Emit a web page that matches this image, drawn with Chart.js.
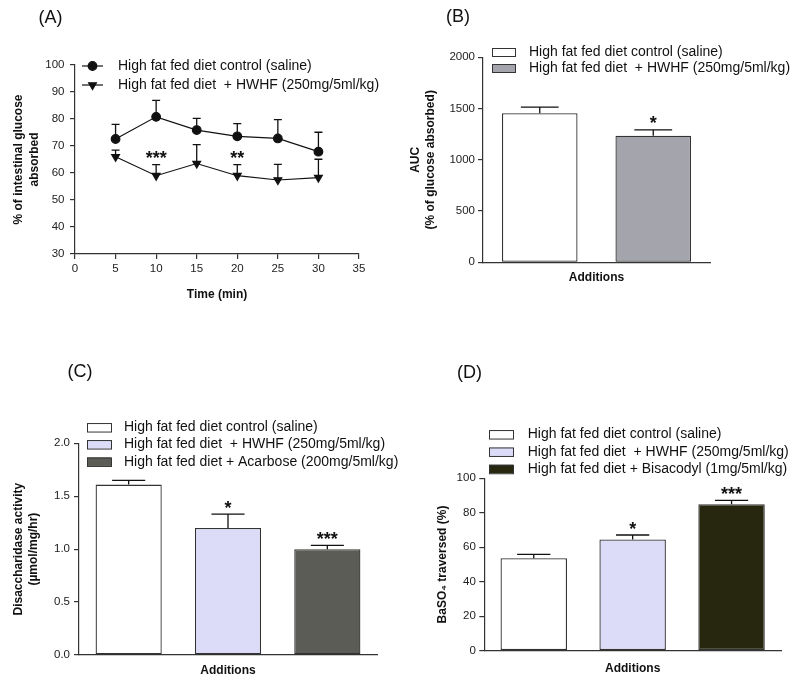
<!DOCTYPE html>
<html>
<head>
<meta charset="utf-8">
<script src="https://cdn.jsdelivr.net/npm/chart.js@4.4.1/dist/chart.umd.min.js"></script>
<style>
  html, body { margin: 0; padding: 0; background: #fff; }
  #wrap { position: relative; width: 798px; height: 682px; overflow: hidden; background: #fff; }
  canvas { position: absolute; }
</style>
</head>
<body>
<div id="wrap">
  <canvas id="chartA" width="399" height="318" style="left:0;top:0"></canvas>
  <canvas id="chartB" width="399" height="318" style="left:399px;top:0"></canvas>
  <canvas id="chartC" width="399" height="364" style="left:0;top:318px"></canvas>
  <canvas id="chartD" width="399" height="364" style="left:399px;top:318px"></canvas>
</div>
<script>
// ===== DATA =====
const controlName = "High fat fed diet control (saline)";
const hwhfName = "High fat fed diet  + HWHF (250mg/5ml/kg)";
const acarboseName = "High fat fed diet + Acarbose (200mg/5ml/kg)";
const bisacodylName = "High fat fed diet + Bisacodyl (1mg/5ml/kg)";

// (A) glucose absorption over time
const timePoints = [5, 10, 15, 20, 25, 30];
const controlGlucose = [72.6, 80.8, 75.9, 73.6, 72.8, 67.9];
const controlGlucoseSem = [5.4, 6.1, 4.3, 4.7, 7.0, 7.2];
const hwhfGlucose = [66.0, 59.0, 63.5, 59.0, 57.4, 58.3];
const hwhfGlucoseSem = [2.5, 4.1, 7.0, 4.1, 5.8, 6.8];
const hwhfGlucoseStars = ["", "***", "", "**", "", ""];
const timeTicks = [0, 5, 10, 15, 20, 25, 30, 35];
const glucoseTicks = [30, 40, 50, 60, 70, 80, 90, 100];

// (B) AUC
const aucGroups = [controlName, hwhfName];
const aucValues = [1455, 1235];
const aucSem = [58, 56];
const aucStars = ["", "*"];
const aucTicks = [0, 500, 1000, 1500, 2000];

// (C) disaccharidase activity
const disaccGroups = [controlName, hwhfName, acarboseName];
const disaccValues = [1.61, 1.20, 1.00];
const disaccSem = [0.04, 0.13, 0.035];
const disaccStars = ["", "*", "***"];
const disaccTicks = [0, 0.5, 1.0, 1.5, 2.0];

// (D) BaSO4 transit
const transitGroups = [controlName, hwhfName, bisacodylName];
const transitValues = [53.6, 64.5, 85.0];
const transitSem = [2.3, 2.6, 2.2];
const transitStars = ["", "*", "***"];
const transitTicks = [0, 20, 40, 60, 80, 100];

// ===== SHARED STYLE =====
const FONT = "'Liberation Sans', Arial, sans-serif";
Chart.defaults.font.family = FONT;
Chart.defaults.color = "#222";

// error bars, stars, legend and panel letter
const decor = {
  id: "decor",
  afterDatasetsDraw(chart, args, opts) {
    const ctx = chart.ctx;
    const yScale = chart.scales.y;
    ctx.save();
    chart.data.datasets.forEach((ds, di) => {
      if (!ds.sem) return;
      const meta = chart.getDatasetMeta(di);
      meta.data.forEach((el, i) => {
        const raw = ds.data[i];
        const val = typeof raw === "object" ? raw.y : raw;
        const top = yScale.getPixelForValue(val + ds.sem[i]);
        const half = el.width ? el.width / 4 : 4;
        ctx.strokeStyle = "#111";
        ctx.lineWidth = 1.3;
        ctx.beginPath();
        ctx.moveTo(el.x, el.y);
        ctx.lineTo(el.x, top);
        ctx.moveTo(el.x - half, top);
        ctx.lineTo(el.x + half, top);
        ctx.stroke();
        if (ds.stars && ds.stars[i]) {
          ctx.fillStyle = "#111";
          ctx.font = "bold 18px " + FONT;
          ctx.textAlign = "center";
          ctx.textBaseline = "alphabetic";
          ctx.fillText(ds.stars[i], el.x, top - 0.5);
        }
      });
    });
    ctx.restore();
  },
  afterDraw(chart, args, opts) {
    const ctx = chart.ctx;
    ctx.save();
    // panel letter
    ctx.fillStyle = "#111";
    ctx.font = "18px " + FONT;
    ctx.textAlign = "center";
    ctx.textBaseline = "middle";
    ctx.fillText(opts.letter, opts.letterX, opts.letterY);

    // legend
    const lg = opts.legend;
    ctx.font = "14px " + FONT;
    ctx.textAlign = "left";
    if (lg.kind === "line") {
      chart.data.datasets.forEach((ds, i) => {
        const y = lg.rows[i];
        ctx.strokeStyle = ds.borderColor;
        ctx.lineWidth = 1.2;
        ctx.beginPath();
        ctx.moveTo(lg.x, y);
        ctx.lineTo(lg.x + lg.w, y);
        ctx.stroke();
        ctx.fillStyle = ds.pointBackgroundColor;
        Chart.helpers.drawPoint(ctx, {
          pointStyle: ds.pointStyle, rotation: ds.pointRotation || 0,
          radius: ds.pointRadius, borderWidth: 1
        }, lg.x + lg.w / 2, y);
        ctx.fillStyle = "#111";
        ctx.fillText(ds.label, lg.textX, y);
      });
    } else {
      const ds = chart.data.datasets[0];
      chart.data.labels.forEach((name, i) => {
        const y = lg.rows[i];
        ctx.fillStyle = ds.backgroundColor[i];
        ctx.fillRect(lg.x, y - lg.h / 2, lg.w, lg.h);
        ctx.strokeStyle = "#333";
        ctx.lineWidth = 1;
        ctx.strokeRect(lg.x + 0.5, y - lg.h / 2 + 0.5, lg.w, lg.h);
        ctx.fillStyle = "#111";
        ctx.fillText(name, lg.textX, y);
      });
    }
    ctx.restore();
  }
};

function yAxis(ticks, title, width, titlePadTop, tickPad, fmt) {
  return {
    type: "linear",
    min: ticks[0],
    max: ticks[ticks.length - 1],
    afterBuildTicks: (s) => { s.ticks = ticks.map((v) => ({ value: v })); },
    afterFit: (s) => { s.width = width; },
    border: { display: true, color: "#333", width: 1.2 },
    grid: { display: true, drawOnChartArea: false, drawTicks: true, tickLength: 5, color: "#333", lineWidth: 1.2 },
    ticks: { font: { size: 11.5 }, color: "#222", padding: tickPad, callback: fmt || ((v) => v) },
    title: { display: true, text: title, font: { size: 12, weight: "bold", lineHeight: 1.3 }, color: "#111", padding: { top: titlePadTop, bottom: 0 } }
  };
}

function barAxis(height) {
  return {
    type: "category",
    afterFit: (s) => { s.height = height; },
    border: { display: true, color: "#333", width: 1.2 },
    grid: { display: false },
    ticks: { display: false },
    title: { display: true, text: "Additions", font: { size: 12, weight: "bold", lineHeight: 1.2 }, color: "#111", padding: 0 }
  };
}

const baseOptions = {
  responsive: false,
  animation: false,
  events: []
};

// ===== (A) =====
new Chart(document.getElementById("chartA"), {
  type: "line",
  data: {
    datasets: [
      {
        label: controlName,
        data: timePoints.map((t, i) => ({ x: t, y: controlGlucose[i] })),
        sem: controlGlucoseSem,
        borderColor: "#111",
        borderWidth: 1.2,
        pointStyle: "circle",
        pointRadius: 4.3,
        pointBackgroundColor: "#111",
        pointBorderColor: "#111",
        tension: 0
      },
      {
        label: hwhfName,
        data: timePoints.map((t, i) => ({ x: t, y: hwhfGlucose[i] })),
        sem: hwhfGlucoseSem,
        stars: hwhfGlucoseStars,
        borderColor: "#111",
        borderWidth: 1.2,
        pointStyle: "triangle",
        pointRotation: 180,
        pointRadius: 4.5,
        pointBackgroundColor: "#111",
        pointBorderColor: "#111",
        tension: 0
      }
    ]
  },
  options: {
    ...baseOptions,
    layout: { padding: { left: 4, top: 65, right: 40, bottom: 16.5 } },
    scales: {
      x: {
        type: "linear",
        min: timeTicks[0],
        max: timeTicks[timeTicks.length - 1],
        afterBuildTicks: (s) => { s.ticks = timeTicks.map((v) => ({ value: v })); },
        afterFit: (s) => { s.height = 47.5; },
        border: { display: true, color: "#333", width: 1.2 },
        grid: { display: true, drawOnChartArea: false, drawTicks: true, tickLength: 5, color: "#333", lineWidth: 1.2 },
        ticks: { font: { size: 11.5 }, color: "#222", padding: 3, maxRotation: 0 },
        title: { display: true, text: "Time (min)", font: { size: 12, weight: "bold", lineHeight: 1.2 }, color: "#111", padding: 0 }
      },
      y: yAxis(glucoseTicks, ["% of intestinal glucose", "absorbed"], 71, 7, 5.5)
    },
    plugins: {
      legend: { display: false },
      tooltip: { enabled: false },
      decor: {
        letter: "(A)", letterX: 50.5, letterY: 18,
        legend: { kind: "line", x: 82, w: 21, textX: 118, rows: [66, 85] }
      }
    }
  },
  plugins: [decor]
});

// ===== (B) =====
new Chart(document.getElementById("chartB"), {
  type: "bar",
  data: {
    labels: aucGroups,
    datasets: [{
      data: aucValues,
      sem: aucSem,
      stars: aucStars,
      backgroundColor: ["#ffffff", "#a4a4ac"],
      borderColor: "#333",
      borderWidth: 1.3,
      borderSkipped: false,
      categoryPercentage: 1,
      barPercentage: 0.666
    }]
  },
  options: {
    ...baseOptions,
    layout: { padding: { left: 4, top: 57.3, right: 88, bottom: 32.8 } },
    scales: {
      x: barAxis(22.9),
      y: yAxis(aucTicks, ["AUC", "(% of glucose absorbed)"], 80, 4.5, 3)
    },
    plugins: {
      legend: { display: false },
      tooltip: { enabled: false },
      decor: {
        letter: "(B)", letterX: 59, letterY: 17,
        legend: { kind: "box", x: 93, w: 23, h: 8, textX: 130, rows: [52, 68] }
      }
    }
  },
  plugins: [decor]
});

// ===== (C) =====
new Chart(document.getElementById("chartC"), {
  type: "bar",
  data: {
    labels: disaccGroups,
    datasets: [{
      data: disaccValues,
      sem: disaccSem,
      stars: disaccStars,
      backgroundColor: ["#ffffff", "#dcdcf8", "#5b5c56"],
      borderColor: "#333",
      borderWidth: 1.3,
      borderSkipped: false,
      categoryPercentage: 1,
      barPercentage: 0.666
    }]
  },
  options: {
    ...baseOptions,
    layout: { padding: { left: 4, top: 125.3, right: 22, bottom: 4.1 } },
    scales: {
      x: barAxis(22.9),
      y: yAxis(disaccTicks, ["Disaccharidase activity", "(\u00b5mol/mg/hr)"], 75, 6.5, 4, (v) => v.toFixed(1))
    },
    plugins: {
      legend: { display: false },
      tooltip: { enabled: false },
      decor: {
        letter: "(C)", letterX: 80, letterY: 54,
        legend: { kind: "box", x: 87, w: 24, h: 8.5, textX: 124, rows: [109.3, 126.3, 143.7] }
      }
    }
  },
  plugins: [decor]
});

// ===== (D) =====
new Chart(document.getElementById("chartD"), {
  type: "bar",
  data: {
    labels: transitGroups,
    datasets: [{
      data: transitValues,
      sem: transitSem,
      stars: transitStars,
      backgroundColor: ["#ffffff", "#dcdcf8", "#27260f"],
      borderColor: "#333",
      borderWidth: 1.3,
      borderSkipped: false,
      categoryPercentage: 1,
      barPercentage: 0.672
    }]
  },
  options: {
    ...baseOptions,
    layout: { padding: { left: 4, top: 160.3, right: 17, bottom: 5.8 } },
    scales: {
      x: barAxis(25.5),
      y: yAxis(transitTicks, "BaSO\u2084 traversed (%)", 81.3, 32, 3.5)
    },
    plugins: {
      legend: { display: false },
      tooltip: { enabled: false },
      decor: {
        letter: "(D)", letterX: 70.5, letterY: 55,
        legend: { kind: "box", x: 90, w: 24, h: 8.5, textX: 128.7, rows: [116.3, 133.7, 151] }
      }
    }
  },
  plugins: [decor]
});
</script>
</body>
</html>
